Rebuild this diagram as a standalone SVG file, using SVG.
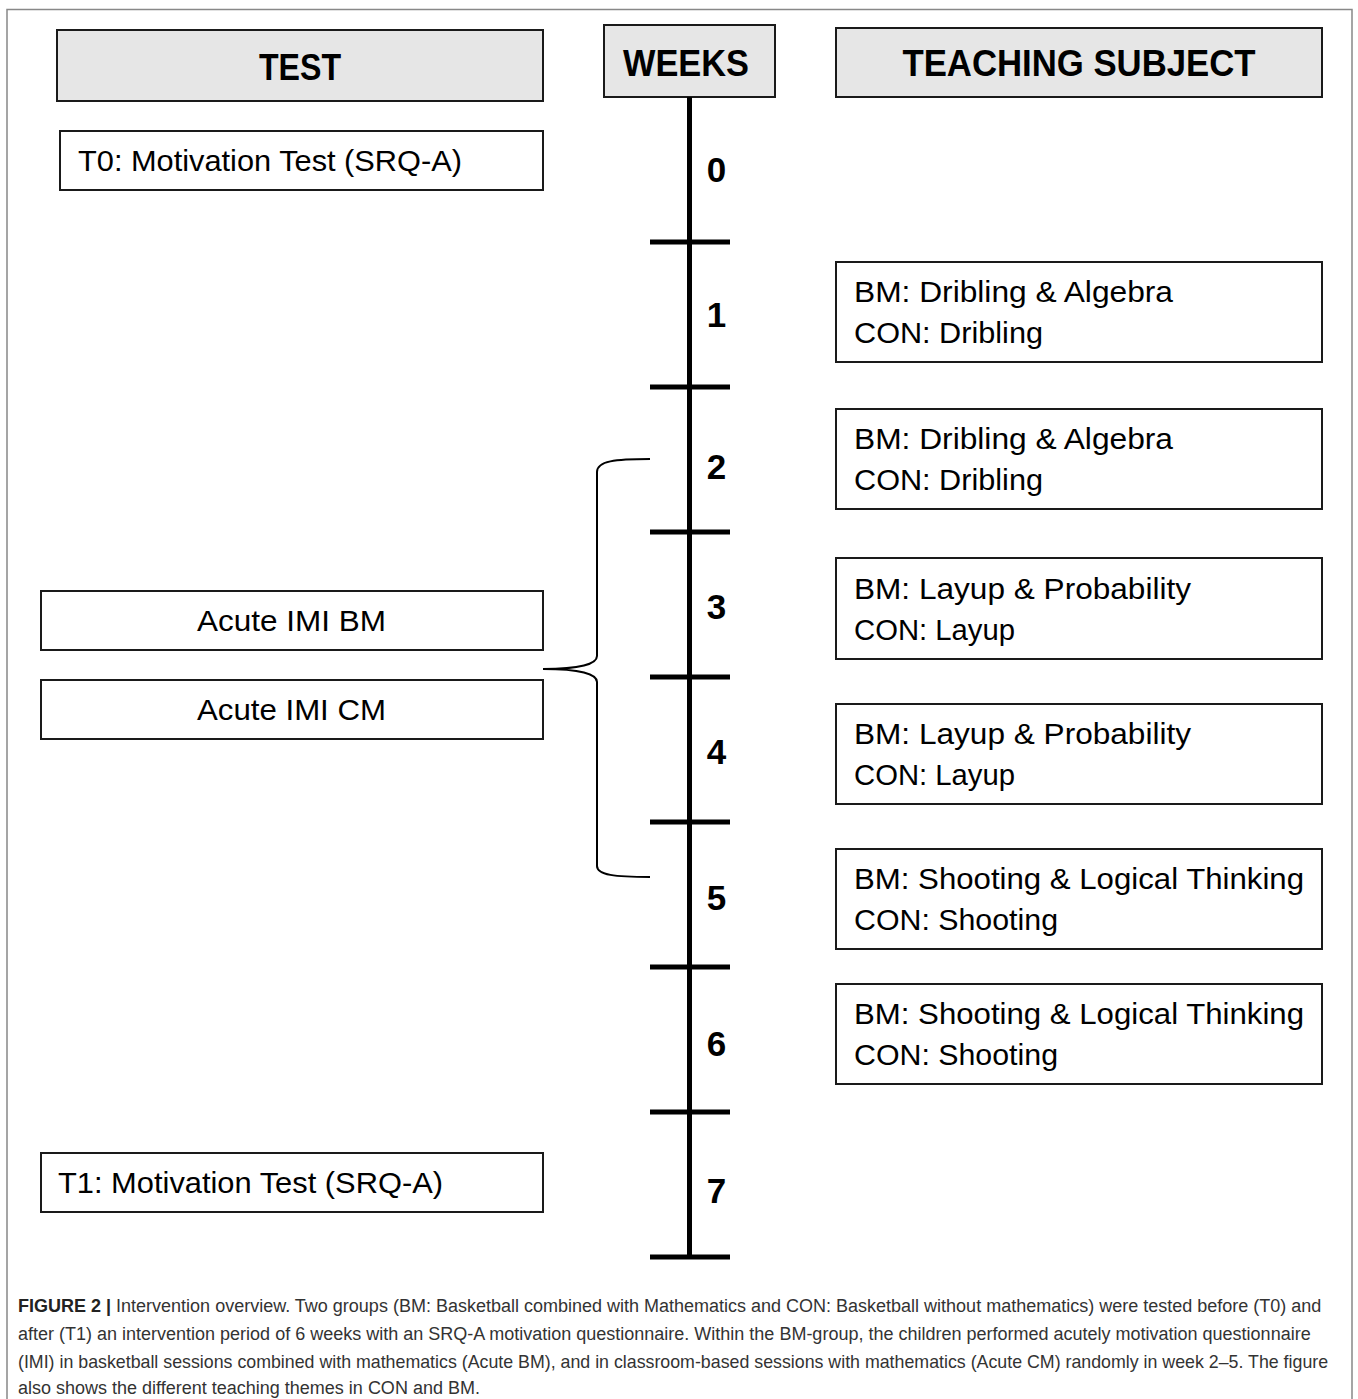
<svg xmlns="http://www.w3.org/2000/svg" width="1358" height="1399" viewBox="0 0 1358 1399">
<style>
.hdr{fill:#e6e6e6;stroke:#1a1a1a;stroke-width:2}
.box{fill:#fff;stroke:#1a1a1a;stroke-width:2}
.ht{font-family:"Liberation Sans",Arial,sans-serif;font-weight:bold;font-size:36px;fill:#000;text-anchor:middle}
.bt{font-family:"Liberation Sans",Arial,sans-serif;font-size:29px;fill:#000}
.num{font-family:"Liberation Sans",Arial,sans-serif;font-weight:bold;font-size:35px;fill:#000;text-anchor:middle}
.axis{stroke:#000;stroke-width:5;fill:none}
.brace{stroke:#000;stroke-width:2;fill:none}
.cap{font-family:"Liberation Sans",Arial,sans-serif;font-size:18px;fill:#333}
</style>
<rect x="0" y="0" width="1358" height="1399" fill="#fff"/>
<path d="M7,1399 V9.5 H1352 V1399" fill="none" stroke="#888" stroke-width="1.5"/>

<g id="hdr-test"><rect class="hdr" x="57" y="30" width="486" height="71"/><text class="ht" x="300" y="80" textLength="82" lengthAdjust="spacingAndGlyphs">TEST</text></g>
<g id="hdr-weeks"><rect class="hdr" x="604" y="25" width="171" height="72"/><text class="ht" x="686" y="76" textLength="126" lengthAdjust="spacingAndGlyphs">WEEKS</text></g>
<g id="hdr-subject"><rect class="hdr" x="836" y="28" width="486" height="69"/><text class="ht" x="1079" y="76" textLength="353" lengthAdjust="spacingAndGlyphs">TEACHING SUBJECT</text></g>

<g id="t0"><rect class="box" x="60" y="131" width="483" height="59"/><text class="bt" x="78" y="171" textLength="384" lengthAdjust="spacingAndGlyphs">T0: Motivation Test (SRQ-A)</text></g>
<g id="acute-bm"><rect class="box" x="41" y="591" width="502" height="59"/><text class="bt" x="197" y="631" textLength="189" lengthAdjust="spacingAndGlyphs">Acute IMI BM</text></g>
<g id="acute-cm"><rect class="box" x="41" y="680" width="502" height="59"/><text class="bt" x="197" y="720" textLength="189" lengthAdjust="spacingAndGlyphs">Acute IMI CM</text></g>
<g id="t1"><rect class="box" x="41" y="1153" width="502" height="59"/><text class="bt" x="58" y="1193" textLength="385" lengthAdjust="spacingAndGlyphs">T1: Motivation Test (SRQ-A)</text></g>

<g id="week1"><rect class="box" x="836" y="262" width="486" height="100"/><text class="bt" x="854" y="302" textLength="319" lengthAdjust="spacingAndGlyphs">BM: Dribling &amp; Algebra</text><text class="bt" x="854" y="343" textLength="189" lengthAdjust="spacingAndGlyphs">CON: Dribling</text></g>
<g id="week2"><rect class="box" x="836" y="409" width="486" height="100"/><text class="bt" x="854" y="449" textLength="319" lengthAdjust="spacingAndGlyphs">BM: Dribling &amp; Algebra</text><text class="bt" x="854" y="490" textLength="189" lengthAdjust="spacingAndGlyphs">CON: Dribling</text></g>
<g id="week3"><rect class="box" x="836" y="558" width="486" height="101"/><text class="bt" x="854" y="599" textLength="337" lengthAdjust="spacingAndGlyphs">BM: Layup &amp; Probability</text><text class="bt" x="854" y="640" textLength="161" lengthAdjust="spacingAndGlyphs">CON: Layup</text></g>
<g id="week4"><rect class="box" x="836" y="704" width="486" height="100"/><text class="bt" x="854" y="744" textLength="337" lengthAdjust="spacingAndGlyphs">BM: Layup &amp; Probability</text><text class="bt" x="854" y="785" textLength="161" lengthAdjust="spacingAndGlyphs">CON: Layup</text></g>
<g id="week5"><rect class="box" x="836" y="849" width="486" height="100"/><text class="bt" x="854" y="889" textLength="450" lengthAdjust="spacingAndGlyphs">BM: Shooting &amp; Logical Thinking</text><text class="bt" x="854" y="930" textLength="204" lengthAdjust="spacingAndGlyphs">CON: Shooting</text></g>
<g id="week6"><rect class="box" x="836" y="984" width="486" height="100"/><text class="bt" x="854" y="1024" textLength="450" lengthAdjust="spacingAndGlyphs">BM: Shooting &amp; Logical Thinking</text><text class="bt" x="854" y="1065" textLength="204" lengthAdjust="spacingAndGlyphs">CON: Shooting</text></g>

<g id="timeline">
<line class="axis" x1="689.5" y1="97" x2="689.5" y2="1257"/>
<line class="axis" x1="650" y1="242" x2="730" y2="242"/>
<line class="axis" x1="650" y1="387" x2="730" y2="387"/>
<line class="axis" x1="650" y1="532" x2="730" y2="532"/>
<line class="axis" x1="650" y1="677" x2="730" y2="677"/>
<line class="axis" x1="650" y1="822" x2="730" y2="822"/>
<line class="axis" x1="650" y1="967" x2="730" y2="967"/>
<line class="axis" x1="650" y1="1112" x2="730" y2="1112"/>
<line class="axis" x1="650" y1="1257" x2="730" y2="1257"/>
<text class="num" x="716.5" y="182">0</text>
<text class="num" x="716.5" y="327">1</text>
<text class="num" x="716.5" y="479">2</text>
<text class="num" x="716.5" y="619">3</text>
<text class="num" x="716.5" y="764">4</text>
<text class="num" x="716.5" y="910">5</text>
<text class="num" x="716.5" y="1056">6</text>
<text class="num" x="716.5" y="1203">7</text>
</g>

<g id="connectors">
<path class="brace" d="M650,459 C615,459 597,461 597,472 V656 C597,664 580,669 543,669 C580,669 597,674 597,682 V866 C597,875 615,877 650,877"/>
</g>

<g id="caption">
<text class="cap" x="18" y="1312"><tspan font-weight="bold" fill="#222">FIGURE 2 |</tspan> Intervention overview. Two groups (BM: Basketball combined with Mathematics and CON: Basketball without mathematics) were tested before (T0) and</text>
<text class="cap" x="18" y="1340">after (T1) an intervention period of 6 weeks with an SRQ-A motivation questionnaire. Within the BM-group, the children performed acutely motivation questionnaire</text>
<text class="cap" x="18" y="1368" style="font-size:17.8px">(IMI) in basketball sessions combined with mathematics (Acute BM), and in classroom-based sessions with mathematics (Acute CM) randomly in week 2–5. The figure</text>
<text class="cap" x="18" y="1394">also shows the different teaching themes in CON and BM.</text>
</g>
</svg>
